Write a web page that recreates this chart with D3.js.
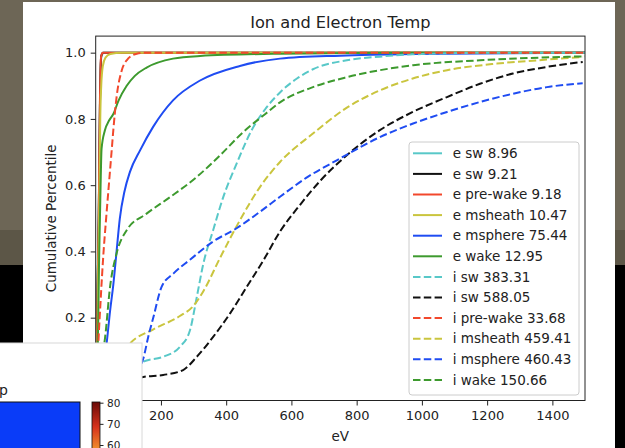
<!DOCTYPE html>
<html>
<head>
<meta charset="utf-8">
<script src="https://cdn.jsdelivr.net/npm/d3@7"></script>
<style>
body{margin:0;background:#6d6656;}
svg{display:block;}
text{font-family:"DejaVu Sans",sans-serif;fill:#222;}
</style>
</head>
<body>
<svg id="svg0"></svg>
<script>
// cumulative curves, [eV, percentile]
let eSw = [[0,0],[3,0.03],[4,0.15],[5,0.28],[7,0.4],[9,0.5],[11,0.68],[13,0.85],[15,0.95],[18,0.99],[25,1],[1500,1]];
let eSw2 = [[0,0],[3,0.03],[4,0.14],[6,0.3],[8,0.42],[9.2,0.5],[11,0.66],[13,0.84],[15,0.95],[17,0.99],[22,1],[1500,1]];
let ePreWake = [[0,0],[3,0.03],[4,0.15],[6,0.3],[8,0.42],[9.2,0.5],[11,0.68],[13,0.86],[15,0.96],[17,0.99],[22,1],[1500,1]];
let eMsheath = [[0,0],[3,0.02],[5,0.12],[7,0.28],[9,0.42],[10.5,0.5],[12,0.62],[14,0.8],[17,0.9],[22,0.96],[30,0.985],[45,0.996],[80,1],[1500,1]];
let eMsphere = [[0,0],[10,0.005],[20,0.04],[34,0.127],[44,0.22],[54,0.3],[64,0.4],[74,0.5],[88,0.58],[105,0.64],[136,0.705],[176,0.776],[237,0.856],[320,0.916],[442,0.96],[565,0.982],[750,0.991],[973,0.996],[1500,1]];
let eWake = [[0,0],[4,0.02],[6,0.1],[8,0.2],[10,0.35],[13,0.5],[15,0.6],[18,0.71],[28,0.765],[41,0.795],[54,0.815],[70,0.855],[95,0.9],[120,0.93],[156,0.955],[237,0.982],[320,0.99],[565,0.997],[930,1],[1500,1]];
let iSw = [[0,0],[60,0.01],[100,0.03],[146,0.067],[207,0.082],[258,0.112],[289,0.162],[310,0.263],[330,0.363],[360,0.464],[391,0.564],[432,0.665],[478,0.766],[520,0.83],[565,0.88],[617,0.922],[666,0.95],[770,0.977],[871,0.988],[972,0.995],[1239,1],[1500,1]];
let iSw2 = [[0,0],[100,0.01],[146,0.021],[207,0.027],[268,0.042],[310,0.082],[360,0.142],[412,0.213],[463,0.293],[514,0.373],[565,0.46],[626,0.54],[690,0.615],[758,0.68],[871,0.766],[972,0.821],[1077,0.866],[1178,0.906],[1279,0.937],[1383,0.957],[1493,0.972]];
let iPreWake = [[0,0],[4,0.03],[8,0.12],[15,0.25],[23,0.383],[32,0.5],[39,0.585],[49,0.705],[54,0.766],[64,0.866],[80,0.947],[95,0.977],[126,0.997],[156,1],[1500,1]];
let iMsheath = [[0,0],[30,0.02],[60,0.06],[105,0.122],[177,0.165],[258,0.205],[299,0.235],[330,0.28],[381,0.38],[442,0.494],[504,0.595],[565,0.67],[666,0.756],[770,0.834],[871,0.886],[972,0.922],[1077,0.947],[1230,0.967],[1383,0.979],[1493,0.987]];
let iMsphere = [[0,0],[60,0.005],[110,0.02],[135,0.05],[146,0.077],[161,0.142],[177,0.202],[202,0.293],[238,0.333],[289,0.375],[360,0.43],[432,0.47],[504,0.52],[565,0.565],[650,0.625],[739,0.675],[871,0.745],[973,0.786],[1077,0.821],[1178,0.851],[1279,0.876],[1383,0.896],[1493,0.908]];
let iWake = [[0,0],[10,0.02],[20,0.08],[29,0.142],[44,0.293],[64,0.394],[95,0.464],[156,0.514],[228,0.564],[310,0.625],[381,0.69],[452,0.76],[520,0.815],[565,0.85],[666,0.896],[770,0.926],[973,0.962],[1178,0.977],[1500,0.989]];

let labels = ['e sw 8.96','e sw 9.21','e pre-wake 9.18','e msheath 10.47','e msphere 75.44','e wake 12.95',
              'i sw 383.31','i sw 588.05','i pre-wake 33.68','i msheath 459.41','i msphere 460.43','i wake 150.66'];
let curves = [eSw, eSw2, ePreWake, eMsheath, eMsphere, eWake, iSw, iSw2, iPreWake, iMsheath, iMsphere, iWake];
let xTicks = [0,200,400,600,800,1000,1200,1400];
let yTicks = [0,0.2,0.4,0.6,0.8,1.0];
let cbarTicks = [80,70,60];

let colors = ['#58c8c8','#111111','#f2482c','#cac53e','#1f4cf2','#3d9a2e'];
let width = 625, height = 448;
let plot = {left: 95.7, right: 585, top: 36.1, bottom: 400.5};

let svg = d3.select('#svg0').attr('width', width).attr('height', height);

// screen background around the figure window
svg.append('rect').attr('x', 0).attr('y', 0).attr('width', width).attr('height', height).style('fill', '#6d6656');
[[0,23],[615,10]].forEach(s=>{
    svg.append('rect').attr('x', s[0]).attr('y', 230).attr('width', s[1]).attr('height', 35).style('fill', '#5c5647');
    svg.append('rect').attr('x', s[0]).attr('y', 265).attr('width', s[1]).attr('height', height-265).style('fill', '#000');
});
svg.append('rect').attr('x', 23).attr('y', 2).attr('width', 592).attr('height', height).style('fill', '#fff');

let xScale = d3.scaleLinear().domain([0, 1500]).range([plot.left, plot.right]);
let yScale = d3.scaleLinear().domain([-0.05, 1.05]).range([plot.bottom, plot.top]);

svg.append('clipPath').attr('id', 'clip').append('rect')
    .attr('x', plot.left).attr('y', plot.top)
    .attr('width', plot.right-plot.left).attr('height', plot.bottom-plot.top);

let line = d3.line().x(d=>xScale(d[0])).y(d=>yScale(d[1])).curve(d3.curveMonotoneX);

let g = svg.append('g').attr('clip-path', 'url(#clip)');
curves.forEach((c, i)=>{
    g.append('path').datum(c)
        .attr('fill', 'none')
        .style('stroke', colors[i % 6]).style('stroke-width', '2px')
        .style('stroke-dasharray', i >= 6 ? '7.5,3.3' : null)
        .attr('d', line);
});

// axes
let xAxis = svg.append('g').attr('transform', 'translate(0,' + plot.bottom + ')')
    .call(d3.axisBottom(xScale).tickValues(xTicks).tickFormat(d3.format('d')).tickSize(5).tickPadding(5).tickSizeOuter(0));
let yAxis = svg.append('g').attr('transform', 'translate(' + plot.left + ',0)')
    .call(d3.axisLeft(yScale).tickValues(yTicks).tickFormat(d3.format('.1f')).tickSize(5).tickPadding(5).tickSizeOuter(0));
[xAxis, yAxis].forEach(a=>{
    a.select('.domain').remove();
    a.selectAll('text').style('font-size', '13px').style('font-family', '"DejaVu Sans",sans-serif').style('fill', '#222');
    a.selectAll('line').style('stroke', '#222');
});
svg.append('rect').attr('x', plot.left).attr('y', plot.top)
    .attr('width', plot.right-plot.left).attr('height', plot.bottom-plot.top)
    .style('fill', 'none').style('stroke', '#222').style('stroke-width', 1);

// labels
svg.append('text').attr('x', (plot.left+plot.right)/2).attr('y', 27.5)
    .text('Ion and Electron Temp').style('font-size', '16.2px').style('text-anchor', 'middle');
svg.append('text').attr('x', (plot.left+plot.right)/2).attr('y', 441)
    .text('eV').style('font-size', '13.5px').style('text-anchor', 'middle');
svg.append('text').attr('transform', 'translate(56,' + (plot.top+plot.bottom)/2 + ') rotate(-90)')
    .text('Cumulative Percentile').style('font-size', '13.5px').style('text-anchor', 'middle');

// legend
let lg = svg.append('g');
lg.append('rect').attr('x', 409).attr('y', 142).attr('width', 170).attr('height', 253).attr('rx', 3)
    .style('fill', '#fff').style('fill-opacity', 0.8).style('stroke', '#cccccc').style('stroke-width', 1);
labels.forEach((l, i)=>{
    let y = 153.3 + i*20.6;
    lg.append('line').attr('x1', 413).attr('x2', 442).attr('y1', y).attr('y2', y)
        .style('stroke', colors[i % 6]).style('stroke-width', '2px')
        .style('stroke-dasharray', i >= 6 ? '7.5,3.3' : null);
    lg.append('text').attr('x', 452.7).attr('y', y).attr('dy', '0.35em')
        .text(l).style('font-size', '13.5px');
});

// another window overlapping the bottom left corner
let ov = svg.append('g');
ov.append('rect').attr('x', -2).attr('y', 343).attr('width', 144).attr('height', 110)
    .style('fill', '#fff').style('stroke', '#d8d8d8').style('stroke-width', 1);
ov.append('text').attr('x', -1).attr('y', 395).text('p').style('font-size', '14px');
ov.append('rect').attr('x', -1).attr('y', 402).attr('width', 81).attr('height', 50)
    .style('fill', '#0a3cf8').style('stroke', '#111').style('stroke-width', 1);
let grad = svg.append('defs').append('linearGradient').attr('id', 'cbar')
    .attr('x1', 0).attr('y1', 0).attr('x2', 0).attr('y2', 1);
[['0%','#6a0a08'],['50%','#d6321c'],['100%','#f49a2e']].forEach(s=>{
    grad.append('stop').attr('offset', s[0]).attr('stop-color', s[1]);
});
ov.append('rect').attr('x', 92).attr('y', 402).attr('width', 8).attr('height', 50)
    .style('fill', 'url(#cbar)').style('stroke', '#111').style('stroke-width', 0.8);
let cScale = d3.scaleLinear().domain([80, 60]).range([402.7, 445]);
let cAxis = ov.append('g').attr('transform', 'translate(100,0)')
    .call(d3.axisRight(cScale).tickValues(cbarTicks).tickSize(3.5).tickPadding(3.5).tickSizeOuter(0));
cAxis.select('.domain').remove();
cAxis.selectAll('text').style('font-size', '10.5px').style('font-family', '"DejaVu Sans",sans-serif').style('fill', '#222');
cAxis.selectAll('line').style('stroke', '#222');
</script>
</body>
</html>
